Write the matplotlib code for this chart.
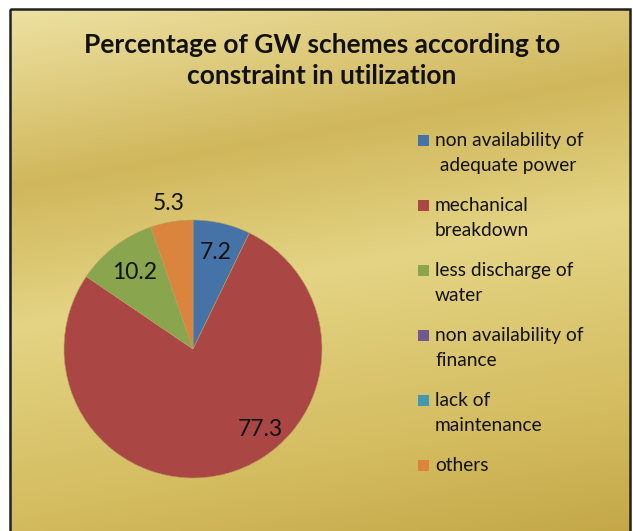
import matplotlib.pyplot as plt
import numpy as np
from matplotlib.colors import LinearSegmentedColormap
from matplotlib.patches import Rectangle

W, H = 633, 531

categories = [
    "non availability of\n adequate power",
    "mechanical\nbreakdown",
    "less discharge of\nwater",
    "non availability of\nfinance",
    "lack of\nmaintenance",
    "others",
]
values = [7.2, 77.3, 10.2, 0.0, 0.0, 5.3]
value_labels = ["7.2", "77.3", "10.2", "", "", "5.3"]
colors = ["#4573a7", "#aa4643", "#89a54e", "#71588f", "#4198af", "#db843d"]

# label placement (radius as fraction of pie radius, angle override in degrees)
label_radius = [0.77, 0.81, 0.75, None, None, 1.14]
label_angle = [None, -50, None, None, None, None]

plt.rcParams["font.family"] = ["Lato", "DejaVu Sans"]

fig = plt.figure(figsize=(W / 100, H / 100), dpi=100, facecolor="white")


def px(x, y):
    """pixel coords (top-left origin) -> figure fraction"""
    return x / W, 1 - y / H


# gold gradient background panel
bg = fig.add_axes([0, 0, 1, 1], zorder=0)
bg.set_xlim(0, W)
bg.set_ylim(H, 0)
bg.axis("off")
gold = LinearSegmentedColormap.from_list(
    "gold",
    [(0.0, "#ede1a2"), (0.28, "#d0b75c"), (0.5, "#e4d484"), (0.8, "#d4bc60"), (1.0, "#c4a848")],
)
yy, xx = np.mgrid[0:H, 0:W]
grad = (yy / H) * 0.82 + (xx / W) * 0.18
bg.imshow(grad, cmap=gold, extent=(10, 631, H, 9), aspect="auto", vmin=0, vmax=1)
bg.add_patch(Rectangle((10, 9), 620, H + 10, fill=False, edgecolor="#222222", linewidth=1.8))

# title
fig.text(*px(322, 45), "Percentage of GW schemes according to", ha="center", va="center",
         fontsize=19, fontweight="bold", color="#111111")
fig.text(*px(322, 76), "constraint in utilization", ha="center", va="center",
         fontsize=19, fontweight="bold", color="#111111")

# pie
cx, cy, r = 193, 349, 129
ax = fig.add_axes([(cx - r) / W, (H - cy - r) / H, 2 * r / W, 2 * r / H], zorder=1)
wedges, _ = ax.pie(values, colors=colors, startangle=90, counterclock=False,
                   wedgeprops=dict(linewidth=0.4, edgecolor="#b8a060"))
ax.set_xlim(-1, 1)
ax.set_ylim(-1, 1)
ax.set_aspect("equal")
ax.axis("off")

for w, lab, rad, ang in zip(wedges, value_labels, label_radius, label_angle):
    if not lab:
        continue
    a = np.deg2rad(ang if ang is not None else (w.theta1 + w.theta2) / 2)
    ax.text(rad * np.cos(a), rad * np.sin(a), lab, ha="center", va="center",
            fontsize=16.5, color="#111111")

# legend
y0, dy = 140, 65
for i, (lab, col) in enumerate(zip(categories, colors)):
    y = y0 + i * dy
    bg.add_patch(Rectangle((418, y - 5.5), 11, 11, facecolor=col, edgecolor="none"))
    bg.text(435, y - 8, lab, ha="left", va="top", fontsize=13.8, color="#111111",
            linespacing=1.55)

fig.savefig("out.png", dpi=100, facecolor="white")
